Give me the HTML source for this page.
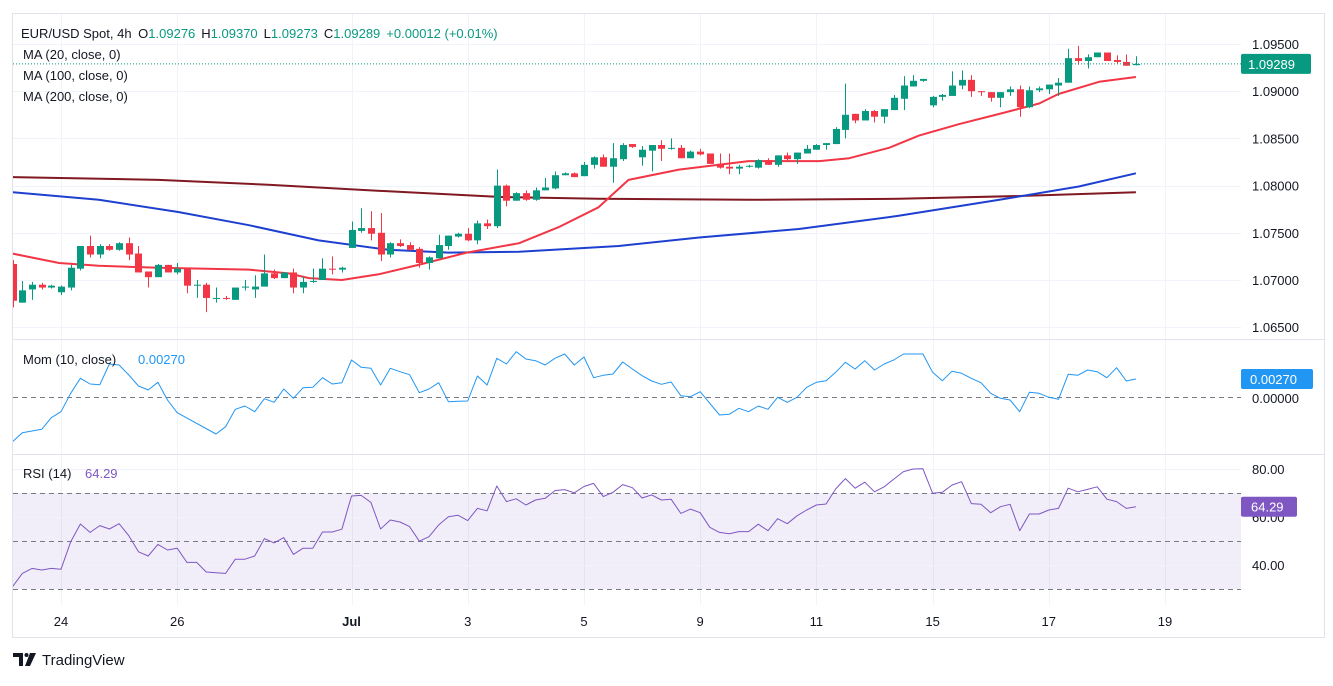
<!DOCTYPE html>
<html><head><meta charset="utf-8">
<style>
html,body{margin:0;padding:0;background:#fff;}
body{width:1333px;height:681px;overflow:hidden;font-family:"Liberation Sans",sans-serif;}
svg text{font-family:"Liberation Sans",sans-serif;}
</style></head>
<body>
<svg id="chart" width="1333" height="681" viewBox="0 0 1333 681" xmlns="http://www.w3.org/2000/svg">
<defs>
<clipPath id="clipMain"><rect x="13" y="14" width="1228" height="325"/></clipPath>
<clipPath id="clipMom"><rect x="13" y="340" width="1228" height="114"/></clipPath>
<clipPath id="clipRsi"><rect x="13" y="455" width="1228" height="150"/></clipPath>
</defs>
<rect x="12.5" y="13.5" width="1312" height="624" fill="#fff" stroke="#e0e3eb"/>
<g id="grid"></g>
<g id="mainPane" clip-path="url(#clipMain)"></g>
<g id="momPane" clip-path="url(#clipMom)"></g>
<g id="rsiPane" clip-path="url(#clipRsi)"></g>
<line x1="13" y1="339.5" x2="1325" y2="339.5" stroke="#e0e3eb"/>
<line x1="13" y1="454.5" x2="1325" y2="454.5" stroke="#e0e3eb"/>
<g id="axes"></g>

<g font-size="13">
<text x="21" y="38" fill="#131722">EUR/USD Spot, 4h <tspan dx="3">O</tspan><tspan fill="#089981">1.09276</tspan><tspan dx="6">H</tspan><tspan fill="#089981">1.09370</tspan><tspan dx="6">L</tspan><tspan fill="#089981">1.09273</tspan><tspan dx="6">C</tspan><tspan fill="#089981">1.09289</tspan><tspan dx="6" fill="#089981">+0.00012 (+0.01%)</tspan></text>
<text x="23" y="59" fill="#131722">MA (20, close, 0)</text>
<text x="23" y="80" fill="#131722">MA (100, close, 0)</text>
<text x="23" y="101" fill="#131722">MA (200, close, 0)</text>
</g>
<g font-size="13">
<text x="23" y="364" fill="#131722">Mom (10, close)</text>
<text x="138" y="364" fill="#2196f3">0.00270</text>
</g>
<g font-size="13">
<text x="23" y="478" fill="#131722">RSI (14)</text>
<text x="85" y="478" fill="#7e57c2">64.29</text>
</g>

<g>
<path d="M13 653h10v13h-4v-9h-6z M30 653h6l-6 13h-5z" fill="#131722"/>
<circle cx="26.5" cy="655" r="2" fill="#131722"/>
<text x="42" y="665" font-size="15" fill="#131722">TradingView</text>
</g>
</svg>
<script>
// ---------- data ----------
const opens = [1.0717,1.0676,1.0690,1.0695,1.0692,1.0687,1.0692,1.0712,1.0736,1.0727,1.0736,1.0732,1.0739,1.0728,1.0709,1.0703,1.0716,1.0708,1.0712,1.0694,1.0695,1.0681,1.0681,1.0679,1.0692,1.0690,1.0693,1.0707,1.0702,1.0708,1.0692,1.0698,1.0700,1.0712,1.0711,1.0734,1.0752,1.0755,1.0750,1.0727,1.0739,1.0737,1.0733,1.0718,1.0723,1.0736,1.0746,1.0749,1.0742,1.0760,1.0757,1.0800,1.0784,1.0792,1.0785,1.0795,1.0797,1.0811,1.0813,1.0810,1.0822,1.0830,1.0820,1.0828,1.0844,1.0830,1.0837,1.0843,1.0839,1.0840,1.0829,1.0836,1.0834,1.0823,1.0820,1.0818,1.0820,1.0819,1.0827,1.0822,1.0832,1.0828,1.0834,1.0838,1.0843,1.0844,1.0859,1.0876,1.0869,1.0879,1.0873,1.0880,1.0892,1.0905,1.0911,1.0885,1.0894,1.0895,1.0906,1.0912,1.0900,1.0899,1.0893,1.0899,1.0902,1.0883,1.0901,1.0902,1.0906,1.0909,1.0935,1.0932,1.0936,1.0941,1.0933,1.0931,1.09276];
const highs = [1.0721,1.0699,1.0698,1.0697,1.0695,1.0694,1.0716,1.0736,1.0747,1.0738,1.0738,1.0740,1.0745,1.0736,1.0709,1.0717,1.0716,1.0718,1.0712,1.0700,1.0697,1.0692,1.0683,1.0692,1.0700,1.0705,1.0727,1.0711,1.0708,1.0712,1.0704,1.0712,1.0723,1.0725,1.0714,1.0762,1.0776,1.0773,1.0771,1.0740,1.0743,1.0740,1.0735,1.0725,1.0748,1.0747,1.0750,1.0755,1.0763,1.0764,1.0817,1.0801,1.0793,1.0795,1.0798,1.0808,1.0815,1.0814,1.0814,1.0825,1.0831,1.0833,1.0845,1.0845,1.0844,1.0842,1.0843,1.0848,1.0850,1.0843,1.0837,1.0839,1.0834,1.0834,1.0834,1.0822,1.0822,1.0828,1.0829,1.0832,1.0835,1.0835,1.0843,1.0844,1.0845,1.0862,1.0908,1.0876,1.0881,1.0880,1.0881,1.0896,1.0916,1.0917,1.0913,1.0895,1.0897,1.0921,1.0922,1.0917,1.0900,1.0899,1.0899,1.0905,1.0906,1.0905,1.0905,1.0907,1.0914,1.0945,1.0948,1.0939,1.0941,1.0941,1.0938,1.0939,1.0937];
const lows = [1.0671,1.0676,1.0679,1.0690,1.0691,1.0684,1.0689,1.0710,1.0724,1.0723,1.0731,1.0731,1.0721,1.0708,1.0692,1.0703,1.0708,1.0706,1.0686,1.0681,1.0666,1.0676,1.0679,1.0679,1.0689,1.0681,1.0693,1.0701,1.0702,1.0686,1.0686,1.0697,1.0700,1.0706,1.0708,1.0734,1.0750,1.0742,1.0720,1.0724,1.0735,1.0731,1.0713,1.0711,1.0723,1.0732,1.0745,1.0741,1.0738,1.0754,1.0755,1.0778,1.0784,1.0784,1.0784,1.0795,1.0796,1.0811,1.0809,1.0810,1.0818,1.0820,1.0803,1.0826,1.0840,1.0821,1.0815,1.0826,1.0838,1.0829,1.0829,1.0832,1.0823,1.0818,1.0812,1.0812,1.0819,1.0818,1.0822,1.0820,1.0826,1.0823,1.0834,1.0838,1.0838,1.0844,1.0850,1.0866,1.0869,1.0867,1.0866,1.0880,1.0880,1.0905,1.0910,1.0883,1.0890,1.0895,1.0902,1.0894,1.0895,1.0889,1.0883,1.0895,1.0873,1.0882,1.0899,1.0897,1.0895,1.0909,1.0928,1.0924,1.0936,1.0932,1.0929,1.0927,1.09273];
const closes = [1.0678,1.0689,1.0695,1.0692,1.0694,1.0693,1.0713,1.0736,1.0727,1.0736,1.0732,1.0739,1.0727,1.0708,1.0703,1.0716,1.0708,1.0712,1.0694,1.0695,1.0681,1.0681,1.0680,1.0692,1.0693,1.0693,1.0707,1.0702,1.0708,1.0692,1.0698,1.0699,1.0712,1.0711,1.0713,1.0753,1.0755,1.0749,1.0727,1.0739,1.0736,1.0732,1.0718,1.0724,1.0737,1.0747,1.0749,1.0742,1.0760,1.0757,1.0800,1.0784,1.0792,1.0785,1.0795,1.0798,1.0811,1.0813,1.0809,1.0822,1.0830,1.0820,1.0829,1.0843,1.0841,1.0838,1.0843,1.0839,1.0840,1.0829,1.0836,1.0833,1.0823,1.0819,1.0818,1.0820,1.0821,1.0827,1.0822,1.0832,1.0828,1.0835,1.0839,1.0843,1.0845,1.0860,1.0875,1.0869,1.0879,1.0873,1.0881,1.0893,1.0906,1.0911,1.0913,1.0894,1.0896,1.0906,1.0912,1.0900,1.0899,1.0893,1.0899,1.0902,1.0883,1.0901,1.0903,1.0907,1.0909,1.0935,1.0932,1.0936,1.0941,1.0932,1.0931,1.0927,1.09289];

const ma20Idx = [0,4.8,8.9,15.1,24.4,28.5,30.6,34,37.8,41.9,46.9,52.3,56.4,60.5,63.6,68.8,76,83.3,86.4,90.5,93.6,97.7,101.9,106,108,112.2,116];
const ma20Vals = [1.0728,1.0718,1.0715,1.0713,1.0711,1.0707,1.0702,1.0700,1.0706,1.0716,1.0729,1.0739,1.0756,1.0777,1.0806,1.0817,1.0826,1.0826,1.0829,1.0840,1.0853,1.0865,1.0876,1.0887,1.0897,1.0910,1.0915];
const ma100Idx = [0,8.9,17.1,24.4,31.6,38.8,45,52.3,62.6,70.9,81.2,91.5,101.9,110.1,116];
const ma100Vals = [1.0793,1.0785,1.0772,1.0758,1.0742,1.0732,1.0729,1.0730,1.0736,1.0745,1.0754,1.0768,1.0785,1.0799,1.0813];
const ma200Idx = [0,15.1,26.4,38.8,50.2,60.5,76,91.5,104,116];
const ma200Vals = [1.0809,1.0806,1.0801,1.0794,1.0788,1.0786,1.0785,1.0786,1.0789,1.0793];

const momIdx = [0,1,3,4,5,6,7,8,9,10,11,12,13,14,15,16,17,21,22,23,24,25,26,27,28,29,30,31,32,33,34,35,36,37,38,39,40,41,42,43,44,45,46,47,48,49,50,51,52,53,54,55,56,57,58,59,60,61,62,63,64,65,66,67,68,69,70,71,72,73,74,75,76,77,78,79,80,81,82,83,84,85,86,87,88,89,90,91,92,93,94,95,96,97,98,99,100,101,102,103,104,105,106,107,108,109,110,111,112,113,114,115,116];
const momVals = [-0.00670,-0.00535,-0.00485,-0.00310,-0.00220,0.00055,0.00280,0.00195,0.00185,0.00495,0.00480,0.00330,0.00165,0.00105,0.00220,-0.00045,-0.00235,-0.00555,-0.00445,-0.00185,-0.00135,-0.00220,-0.00025,-0.00080,0.00120,-0.00020,0.00140,0.00145,0.00290,0.00195,0.00215,0.00555,0.00445,0.00430,0.00180,0.00430,0.00380,0.00335,0.00065,0.00120,0.00215,-0.00070,-0.00065,-0.00060,0.00315,0.00180,0.00580,0.00495,0.00680,0.00570,0.00545,0.00480,0.00580,0.00645,0.00480,0.00600,0.00290,0.00325,0.00345,0.00525,0.00420,0.00320,0.00240,0.00190,0.00225,0.00020,0.00005,0.00080,-0.00095,-0.00270,-0.00260,-0.00170,-0.00220,-0.00135,-0.00185,-0.00005,-0.00080,-0.00005,0.00145,0.00220,0.00245,0.00370,0.00520,0.00420,0.00545,0.00405,0.00495,0.00555,0.00645,0.00645,0.00645,0.00370,0.00245,0.00385,0.00355,0.00280,0.00215,0.00055,-0.00020,-0.00045,-0.00220,0.00070,0.00055,-0.00005,-0.00035,0.00340,0.00325,0.00405,0.00380,0.00290,0.00440,0.00240,0.00270];

const rsiVals = [31.0,36.5,38.6,37.9,38.6,38.2,49.7,57.1,53.6,56.4,55.0,57.2,52.2,45.5,43.75,48.6,46.25,47.0,41.1,41.1,37.1,36.8,36.5,42.4,42.4,43.75,51.0,49.2,51.4,44.4,47.0,47.0,53.75,53.75,54.9,68.75,69.0,66.1,55.0,58.75,57.9,56.0,49.9,51.8,56.7,60.1,60.7,58.5,63.6,62.6,72.9,66.4,67.6,65.0,67.1,67.8,71.0,71.4,70.1,72.7,74.0,68.5,70.3,73.5,72.2,67.9,69.2,67.1,67.4,61.5,63.3,61.8,55.7,53.6,53.0,53.9,53.9,57.0,54.3,59.3,57.2,60.5,62.9,65.0,65.4,71.7,76.0,72.0,74.5,70.5,72.6,75.8,78.9,80.0,80.1,69.9,70.3,73.3,74.7,65.6,65.3,61.8,64.3,65.3,54.3,61.25,61.25,62.9,63.6,72.0,70.5,71.5,72.6,67.4,66.4,63.6,64.29];

const dayTickIdx = [5,17,35,47,59,71,83,95,107,119];
const dayTickLabels = ["24","26","Jul","3","5","9","11","15","17","19"];
const priceTicks = [1.095,1.090,1.085,1.080,1.075,1.070,1.065];
const priceTickLabels = ["1.09500","1.09000","1.08500","1.08000","1.07500","1.07000","1.06500"];
const rsiTicks = [80,60,40];
const rsiTickLabels = ["80.00","60.00","40.00"];
const lastPriceLabel = "1.09289";
const lastMomLabel = "0.00270";
const lastRsiLabel = "64.29";

// ---------- scales ----------
const NS = "http://www.w3.org/2000/svg";
const X0 = 12.6, DX = 9.684;
function xOf(i){ return X0 + DX*i; }
function yPrice(p){ return 44 + (1.095 - p)/0.005*47.2; }
function yMom(v){ return 397 - v*6667; }
function yRsi(v){ return 469 + (80 - v)*2.4; }
function mk(tag, attrs, parent){
  const el = document.createElementNS(NS, tag);
  for (const k in attrs) el.setAttribute(k, attrs[k]);
  parent.appendChild(el);
  return el;
}
const grid = document.getElementById('grid');
const mainPane = document.getElementById('mainPane');
const momPane = document.getElementById('momPane');
const rsiPane = document.getElementById('rsiPane');
const axes = document.getElementById('axes');

dayTickIdx.forEach((d,k)=>{
  const x = Math.round(xOf(d))+0.5;
  const l = mk('line',{x1:x,y1:14,x2:x,y2:605,stroke:'#f0f3fa'},grid);
  
  
  const t = mk('text',{x:xOf(d),y:626,'text-anchor':'middle','font-size':13,fill:'#131722','font-weight':dayTickLabels[k]==='Jul'?'bold':'normal'},axes);
  t.textContent = dayTickLabels[k];
  
  
});
priceTicks.forEach((p,k)=>{
  const y = Math.round(yPrice(p))+0.5;
  const l = mk('line',{x1:13,y1:y,x2:1241,y2:y,stroke:'#f0f3fa'},grid);
  
  
  const t = mk('text',{x:1252,y:yPrice(p)+5,'font-size':13,fill:'#131722'},axes);
  t.textContent = priceTickLabels[k];
  
  
});
const band = mk('rect',{x:13,y:yRsi(70),width:1228,height:yRsi(30)-yRsi(70),fill:'rgba(126,87,194,0.1)'},grid);


rsiTicks.forEach((v,k)=>{
  const y = Math.round(yRsi(v))+0.5;
  const l = mk('line',{x1:13,y1:y,x2:1241,y2:y,stroke:'#f0f3fa'},grid);
  
  
  const t = mk('text',{x:1252,y:yRsi(v)+5,'font-size':13,fill:'#131722'},axes);
  t.textContent = rsiTickLabels[k];
  
  
});
[70,50,30].forEach(v=>{
  const y = Math.round(yRsi(v))+0.5;
  const l = mk('line',{x1:13,y1:y,x2:1241,y2:y,stroke:'#787b86','stroke-dasharray':'5 4'},grid);
  
  
});
{
  const y = Math.round(yMom(0))+0.5;
  const l = mk('line',{x1:13,y1:y,x2:1241,y2:y,stroke:'#787b86','stroke-dasharray':'5 4'},grid);
  
  
  const t = mk('text',{x:1252,y:yMom(0)+6,'font-size':13,fill:'#131722'},axes);
  t.textContent = '0.00000';
  
  
}

function drawLine(idxArr, valArr, yf, color, w, parent, name){
  const pts = idxArr.map((d,k)=>xOf(d).toFixed(1)+','+yf(valArr[k]).toFixed(1)).join(' ');
  const pl = mk('polyline',{points:pts,fill:'none',stroke:color,'stroke-width':w,'stroke-linejoin':'round'},parent);
  
  
}
drawLine(ma200Idx, ma200Vals, yPrice, '#801922', 2, mainPane, 'ma200-line');
drawLine(ma100Idx, ma100Vals, yPrice, '#1e40d0', 2, mainPane, 'ma100-line');
drawLine(ma20Idx, ma20Vals, yPrice, '#f23645', 2, mainPane, 'ma20-line');

closes.forEach((c,i)=>{
  const o = opens[i], h = highs[i], l = lows[i];
  const up = c >= o;
  const col = up ? '#089981' : '#f23645';
  const x = xOf(i);
  const g = mk('g',{},mainPane);
  
  
  mk('line',{x1:Math.round(x)+0.5,y1:yPrice(h),x2:Math.round(x)+0.5,y2:yPrice(l),stroke:col,'stroke-width':1},g);
  const yt = yPrice(Math.max(o,c)), yb = yPrice(Math.min(o,c));
  mk('rect',{x:Math.round(x)-3,y:yt,width:7,height:Math.max(1,yb-yt),fill:col},g);
});

{
  const y = yPrice(closes[closes.length-1]);
  const l = mk('line',{x1:13,y1:y,x2:1241,y2:y,stroke:'#089981','stroke-dasharray':'1 2'},mainPane);
  
  
  const r = mk('rect',{x:1241,y:y-10,width:70,height:20,rx:2,fill:'#089981'},axes);
  
  
  const t = mk('text',{x:1248,y:y+5,'font-size':13,fill:'#fff'},axes);
  t.textContent = lastPriceLabel;
  
  
}

drawLine(momIdx, momVals, yMom, '#2196f3', 1, momPane, 'momentum-line');
{
  const y = yMom(momVals[momVals.length-1]);
  const r = mk('rect',{x:1241,y:y-10,width:72,height:20,rx:2,fill:'#2196f3'},axes);
  
  
  const t = mk('text',{x:1250,y:y+5,'font-size':13,fill:'#fff'},axes);
  t.textContent = lastMomLabel;
  
  
}

drawLine(rsiVals.map((v,i)=>i), rsiVals, yRsi, '#7e57c2', 1, rsiPane, 'rsi-line');
{
  const y = yRsi(rsiVals[rsiVals.length-1]);
  const r = mk('rect',{x:1241,y:y-10,width:56,height:20,rx:2,fill:'#7e57c2'},axes);
  
  
  const t = mk('text',{x:1251,y:y+5,'font-size':13,fill:'#fff'},axes);
  t.textContent = lastRsiLabel;
  
  
}
</script>
</body></html>
